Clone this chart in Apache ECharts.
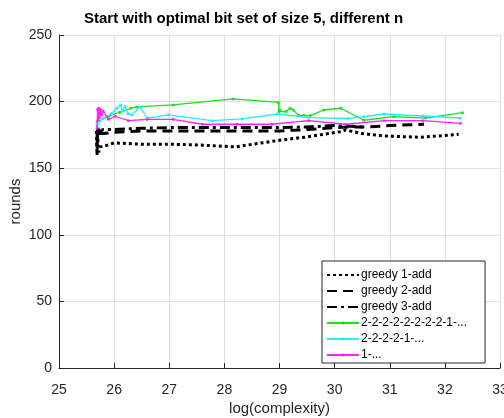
<!DOCTYPE html>
<html>
<head>
<meta charset="utf-8">
<script src="https://cdn.jsdelivr.net/npm/echarts@6/dist/echarts.min.js"></script>
<style>html,body{margin:0;padding:0;background:#fff}#c{width:504px;height:418px}</style>
</head>
<body>
<div id="c"></div>
<script>
const xTicks = [25, 26, 27, 28, 29, 30, 31, 32, 33];
const yTicks = [0, 50, 100, 150, 200, 250];

const names = ['greedy 1-add', 'greedy 2-add', 'greedy 3-add', '2-2-2-2-2-2-2-2-1-...', '2-2-2-2-1-...', '1-...'];

const g1X = [25.68, 25.69, 25.70, 25.72, 25.75, 25.85, 26.0, 26.5, 27.0, 27.5, 28.2, 28.6, 29.0, 29.5, 30.1, 30.2, 30.5, 30.9, 31.56, 32.25];
const g1Y = [178, 160, 175, 162, 166, 167, 169, 168, 168, 167.5, 166, 168.5, 171, 173.5, 177.4, 178.7, 176, 174.2, 173.2, 175.4];

const g2X = [25.69, 25.70, 25.72, 25.8, 26.0, 26.5, 27.0, 27.5, 28.0, 28.5, 29.0, 29.5, 30.0, 30.3, 30.6, 31.0, 31.62];
const g2Y = [172, 180, 176, 176, 177, 178, 178, 178, 178, 178, 178, 179, 180.5, 181, 181, 182, 183];

const g3X = [25.69, 25.70, 25.73, 25.8, 26.0, 26.5, 27.0, 27.5, 28.0, 28.5, 29.0, 29.5, 30.0, 30.5];
const g3Y = [166, 181, 177, 179, 179, 180, 180.5, 180.5, 180.5, 180.5, 180.5, 181, 182, 181];

const gX = [25.69, 25.9, 26.1, 26.3, 26.41, 27.07, 28.16, 28.98, 28.99, 29.01, 29.12, 29.19, 29.25, 29.35, 29.44, 29.56, 29.8, 30.11, 30.53, 31.07, 31.65, 32.32];
const gY = [185, 189, 192, 195, 196, 197.5, 202, 199.4, 192.5, 193.7, 192.5, 195, 193.7, 189.5, 189.5, 189.5, 193.7, 195, 186, 188.7, 187.6, 191.7];

const cX = [25.69, 25.8, 25.95, 26.05, 26.12, 26.15, 26.2, 26.25, 26.32, 26.47, 26.6, 26.99, 27.78, 28.32, 28.96, 29.53, 30.23, 30.53, 30.9, 31.6, 32.28];
const cY = [182, 187.5, 191, 195, 197.4, 193, 196.5, 191, 190, 196, 187.5, 190, 185.7, 187, 190.7, 188, 187.3, 188.7, 190.7, 189.2, 187.7];

const mX = [25.69, 25.70, 25.71, 25.72, 25.73, 25.75, 25.77, 25.8, 25.9, 26.02, 26.26, 26.6, 27.07, 27.6, 28.23, 28.86, 29.53, 30.2, 30.9, 31.6, 32.28];
const mY = [180, 194, 186, 195, 188, 194, 190, 193, 186.7, 189, 185.7, 186.7, 186.7, 183, 183, 183, 185.7, 183, 185.7, 185.7, 183.7];

function pairs(xs, ys) { return xs.map((x, i) => [x, ys[i]]); }

const FONT = 'Liberation Sans, Arial, sans-serif';

function blackSeries(name, xs, ys, dash) {
  return {
    name: name, type: 'line', data: pairs(xs, ys),
    symbol: 'none', z: 2,
    lineStyle: { color: '#000', width: 3, type: dash, cap: 'butt' },
    itemStyle: { color: '#000' },
    animation: false
  };
}
function colorSeries(name, xs, ys, color, z) {
  return {
    name: name, type: 'line', data: pairs(xs, ys),
    symbol: 'circle', symbolSize: 3, showSymbol: true, z: z,
    lineStyle: { color: color, width: 1.3 },
    itemStyle: { color: color, borderWidth: 0 },
    animation: false
  };
}

const legendData = names.map((n, i) => i < 3
  ? { name: n, itemStyle: { opacity: 0 } }
  : { name: n });

const chart = echarts.init(document.getElementById('c'), null, { renderer: 'canvas' });
chart.setOption({
  animation: false,
  backgroundColor: '#fff',
  textStyle: { fontFamily: FONT },
  title: {
    text: 'Start with optimal bit set of size 5, different n',
    left: 79, top: 6,
    textStyle: { fontSize: 15, fontWeight: 'bold', color: '#000', fontFamily: FONT }
  },
  grid: { left: 59, right: 4, top: 35, bottom: 50, containLabel: false, outerBoundsMode: 'none' },
  xAxis: {
    type: 'value', min: 25, max: 33, interval: 1,
    name: 'log(complexity)', nameLocation: 'middle', nameGap: 33, nameMoveOverlap: false,
    nameTextStyle: { fontSize: 15, color: '#262626', fontFamily: FONT },
    axisLine: { show: true, onZero: false, lineStyle: { color: '#262626', width: 1 } },
    axisTick: { show: true, inside: true, length: 5, lineStyle: { color: '#262626' } },
    axisLabel: { fontSize: 14, color: '#262626', margin: 15, fontFamily: FONT, hideOverlap: false,
      showMinLabel: true, showMaxLabel: true,
      formatter: v => xTicks.includes(v) ? String(v) : '' },
    splitLine: { show: true, lineStyle: { color: '#dfdfdf', width: 1 } }
  },
  yAxis: {
    type: 'value', min: 0, max: 250, interval: 50,
    name: 'rounds', nameLocation: 'middle', nameGap: 36, nameMoveOverlap: false,
    nameTextStyle: { fontSize: 15, color: '#262626', fontFamily: FONT },
    axisLine: { show: true, lineStyle: { color: '#262626', width: 1 } },
    axisTick: { show: true, inside: true, length: 5, lineStyle: { color: '#262626' } },
    axisLabel: { fontSize: 14, color: '#262626', margin: 7, fontFamily: FONT,
      formatter: v => yTicks.includes(v) ? String(v) : '' },
    splitLine: { show: true, lineStyle: { color: '#dfdfdf', width: 1 } }
  },
  legend: {
    orient: 'vertical', left: 322, top: 261,
    data: legendData,
    itemWidth: 32, itemHeight: 4, itemGap: 4,
    padding: [8, 18, 2, 4],
    backgroundColor: '#fff', borderColor: '#262626', borderWidth: 1,
    textStyle: { fontSize: 12, color: '#000', fontFamily: FONT, padding: [0, 0, 0, -3] },
    selectedMode: false
  },
  series: [
    blackSeries(names[0], g1X, g1Y, [3, 3]),
    blackSeries(names[1], g2X, g2Y, [10, 6]),
    blackSeries(names[2], g3X, g3Y, [10, 4, 3, 4]),
    colorSeries(names[3], gX, gY, '#11e611', 3),
    colorSeries(names[4], cX, cY, '#22eeff', 4),
    colorSeries(names[5], mX, mY, '#ff22ff', 5)
  ]
});
</script>
</body>
</html>
